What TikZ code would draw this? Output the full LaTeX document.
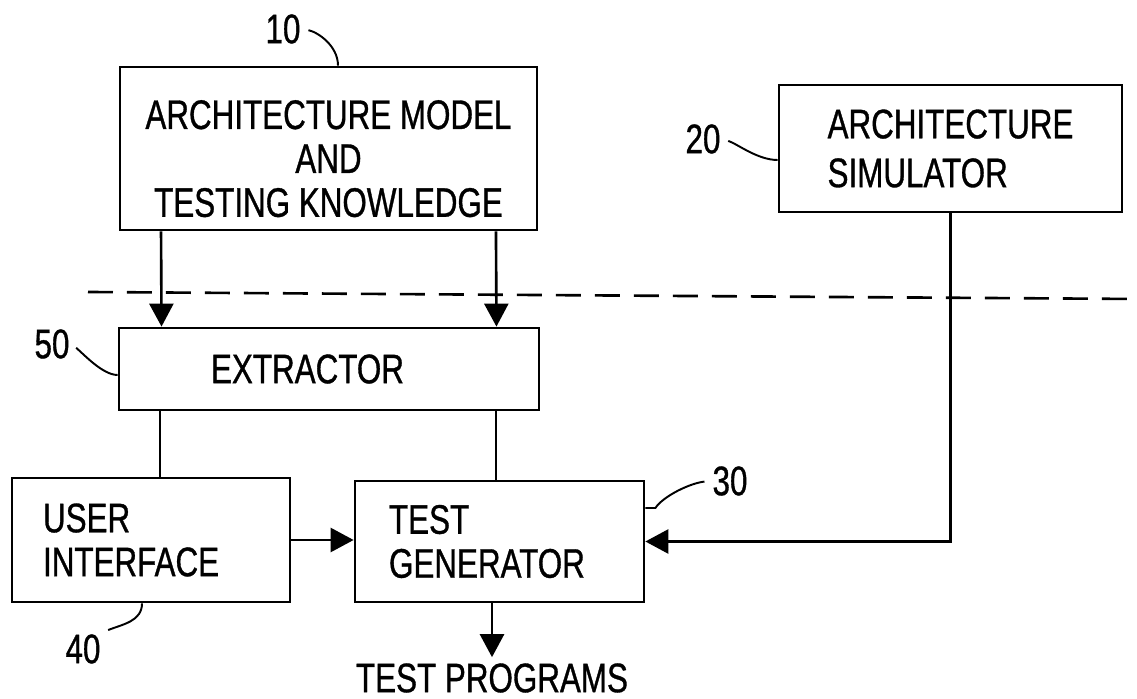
\documentclass[tikz,border=0pt]{standalone}
\usepackage{fontspec}
\setmainfont{Liberation Sans}[FakeStretch=0.76,FakeBold=0.8]
\usetikzlibrary{arrows.meta}
\begin{document}
\begin{tikzpicture}[x=0.02cm,y=-0.02cm,
	font=\fontsize{23.5}{25}\selectfont,
	box/.style={draw,line width=1.6pt,inner sep=0pt},
	tag/.style={inner sep=1pt},
	wire/.style={line width=1.5pt},
	arr/.style={wire,-{Triangle[length=0.46cm,width=0.48cm]}},
	lead/.style={line width=1.1pt,shorten <=0.12cm}]
	\useasboundingbox (0,0) rectangle (1137,699);
	\node[box,align=center,minimum width=8.34cm,minimum height=3.26cm] (model) at (328.5,148.5) {\rule{0pt}{28pt}ARCHITECTURE MODEL\\AND\\TESTING KNOWLEDGE};
	\node[box,align=left,minimum width=6.86cm,minimum height=2.54cm] (sim) at (950.5,148.5) {ARCHITECTURE\\[2.8pt]SIMULATOR};
	\node[box,align=left,text width=4.72cm,inner xsep=1.84cm,minimum height=1.64cm] (extr) at (329,369) {EXTRACTOR};
	\node[box,align=left,text width=4.32cm,inner xsep=0.62cm,minimum height=2.48cm] (ui) at (151,540) {USER\\INTERFACE};
	\node[box,align=left,text width=4.42cm,inner xsep=0.68cm,minimum height=2.42cm] (gen) at (499.5,541.5) {TEST\\GENERATOR};
	\node (prog) at (492,678) {TEST PROGRAMS};
	\node[tag] (n10) at (283,29) {10};
	\node[tag] (n20) at (703,139) {20};
	\node[tag] (n30) at (730,481) {30};
	\node[tag] (n40) at (83,649) {40};
	\node[tag] (n50) at (52,344) {50};
	\draw[wire,dash pattern=on 0.5cm off 0.28cm] (88,292) -- (1137,299);
	\draw[arr] ([xshift=-3.35cm]model.south) -- ([xshift=-3.35cm]extr.north);
	\draw[arr] ([xshift=3.35cm]model.south) -- ([xshift=3.35cm]extr.north);
	\coordinate (c1) at ([xshift=-3.38cm]extr.south);
	\coordinate (c2) at ([xshift=3.34cm]extr.south);
	\draw[wire] (c1) -- (c1 |- ui.north);
	\draw[wire] (c2) -- (c2 |- gen.north);
	\draw[arr] (ui.east) -- (ui.east -| gen.west);
	\draw[arr] (sim.south) |- (gen.east);
	\draw[arr] (prog.north |- gen.south) -- (prog.north);
	\draw[lead] (n10.east) .. controls +(15,3) and +(0,-20) .. ([xshift=0.19cm]model.north);
	\draw[lead] (n20.east) .. controls +(15,5) and +(-20,0) .. ([yshift=-0.23cm]sim.west);
	\draw[lead] (n30.west) .. controls +(-20,2) and +(8,-12) .. ([xshift=0.2cm,yshift=0.67cm]gen.east) -- ([yshift=0.67cm]gen.east);
	\draw[lead] (n40.north east) .. controls +(20,-8) and +(0,18) .. ([xshift=-0.18cm]ui.south);
	\draw[lead] (n50.east) .. controls +(12,10) and +(-15,0) .. ([yshift=-0.12cm]extr.west);
\end{tikzpicture}
\end{document}
